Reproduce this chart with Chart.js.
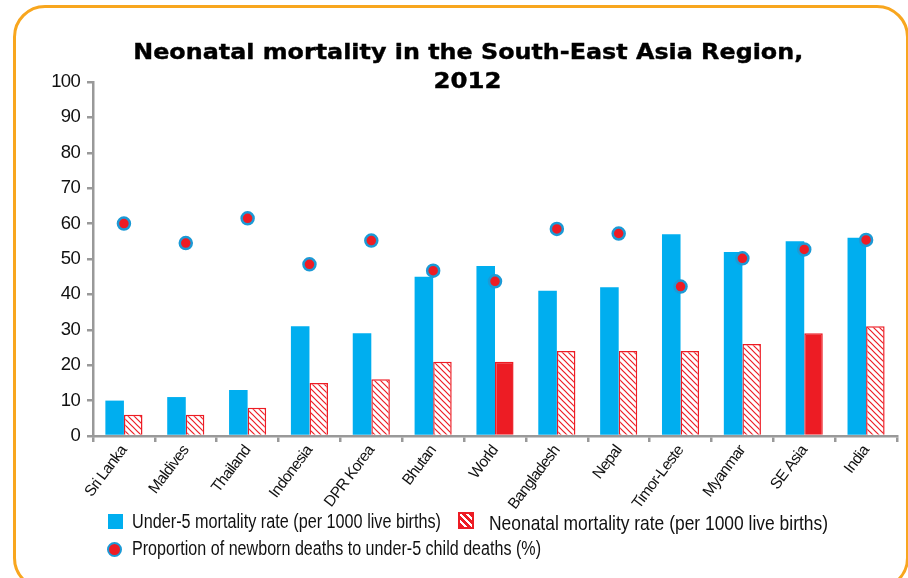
<!DOCTYPE html>
<html lang="en">
<head>
    <meta charset="UTF-8">
    <title>Neonatal mortality in the South-East Asia Region, 2012</title>
    <script src="https://cdn.jsdelivr.net/npm/chart.js"></script>
    <style>
        body { margin: 0; background: #fff; }
        .wrap { position: relative; width: 908px; height: 578px; overflow: hidden; }
        .frame {
            position: absolute; left: 13px; top: 5px; width: 896px; height: 585px;
            border: 3px solid #F8A61E; border-radius: 32px; box-sizing: border-box;
        }
        canvas { position: absolute; left: 0; top: 0; }
        .title {
            position: absolute; left: 0; width: 936px; top: 37px;
            text-align: center; font-family: "DejaVu Sans", Verdana, sans-serif;
            font-weight: bold; font-size: 22px; line-height: 29px; color: #000;
            -webkit-text-stroke: 0.4px #000;
        }
        .title span { display: inline-block; white-space: nowrap; transform-origin: center; }
        .lg { position: absolute; white-space: nowrap; line-height: 1;
              font-family: "Liberation Sans", Arial, sans-serif; color: #111; transform-origin: left top; }
        .sw { position: absolute; box-sizing: border-box; }
        .blue { left: 108px; top: 514px; width: 15px; height: 15px; background: #00AEEF; }
        .hatch {
            left: 458px; top: 512px; width: 16px; height: 17px;
            border: 2px solid #ED1C24;
            background: repeating-linear-gradient(45deg, #ED1C24 0 3px, #fff 3px 5px);
        }
        .dot {
            left: 107px; top: 542px; width: 15px; height: 15px; border-radius: 50%;
            background: #ED1C24; border: 2.5px solid #1B9AD6;
        }
    </style>
</head>
<body>
    <div class="wrap">
        <div class="frame"></div>
        <canvas id="chart" width="908" height="578"></canvas>
        <div class="title">
            <span data-w="670">Neonatal mortality in the South-East Asia Region,</span><br>
            <span data-w="68">2012</span>
        </div>
        <span class="sw blue"></span>
        <span class="lg" data-w="309" style="left:132px; top:512px; font-size:19.5px;">Under-5 mortality rate (per 1000 live births)</span>
        <span class="sw hatch"></span>
        <span class="lg" data-w="339" style="left:489px; top:512px; font-size:21px;">Neonatal mortality rate (per 1000 live births)</span>
        <span class="sw dot"></span>
        <span class="lg" data-w="409" style="left:132px; top:539px; font-size:19.5px;">Proportion of newborn deaths to under-5 child deaths (%)</span>
    </div>

    <script>
        const categories = ["Sri Lanka", "Maldives", "Thailand", "Indonesia", "DPR Korea", "Bhutan", "World",
            "Bangladesh", "Nepal", "Timor-Leste", "Myanmar", "SE Asia", "India"];
        const under5 = [10, 11, 13, 31, 29, 45, 48, 41, 42, 57, 52, 55, 56];
        const neonatal = [6, 6, 8, 15, 16, 21, 21, 24, 24, 24, 26, 29, 31];
        const proportion = [60, 54.5, 61.5, 48.5, 55.2, 46.7, 43.7, 58.5, 57.2, 42.2, 50.2, 52.7, 55.4];
        const solidNeonatal = ["World", "SE Asia"];
        const yTicks = [0, 10, 20, 30, 40, 50, 60, 70, 80, 90, 100];

        const BLUE = '#00AEEF';
        const RED = '#ED1C24';

        // squeeze the html texts to the widths they have in the original (condensed font)
        document.querySelectorAll('[data-w]').forEach(el => {
            const w = el.getBoundingClientRect().width;
            el.style.transform = 'scaleX(' + (el.dataset.w / w) + ')';
        });

        // diagonal hatch for the neonatal bars
        function makeHatch() {
            const s = 6;
            const c = document.createElement('canvas');
            c.width = s; c.height = s;
            const g = c.getContext('2d');
            g.fillStyle = '#fff';
            g.fillRect(0, 0, s, s);
            g.strokeStyle = RED;
            g.lineWidth = 1.2;
            g.beginPath();
            g.moveTo(-1, -1); g.lineTo(s + 1, s + 1);
            g.moveTo(s - 1, -1); g.lineTo(s + 1, 1);
            g.moveTo(-1, s - 1); g.lineTo(1, s + 1);
            g.stroke();
            return g.createPattern(c, 'repeat');
        }

        const ctx = document.getElementById('chart').getContext('2d');
        const hatch = makeHatch();
        const neoColors = categories.map(c => solidNeonatal.includes(c) ? RED : hatch);

        // no condensed font installed, tighten letters instead
        const tighten = {
            id: 'tighten',
            beforeDraw(chart) { chart.ctx.letterSpacing = '-0.7px'; }
        };

        new Chart(ctx, {
            type: 'bar',
            data: {
                labels: categories,
                datasets: [
                    {
                        type: 'line',
                        label: 'Proportion of newborn deaths to under-5 child deaths (%)',
                        data: proportion,
                        showLine: false,
                        pointRadius: 6,
                        pointBackgroundColor: RED,
                        pointBorderColor: '#1B9AD6',
                        pointBorderWidth: 2.5,
                        order: 0
                    },
                    {
                        label: 'Under-5 mortality rate (per 1000 live births)',
                        data: under5,
                        backgroundColor: BLUE,
                        borderWidth: 0,
                        order: 1
                    },
                    {
                        label: 'Neonatal mortality rate (per 1000 live births)',
                        data: neonatal,
                        backgroundColor: neoColors,
                        borderColor: RED,
                        borderWidth: 1.5,
                        order: 2
                    }
                ]
            },
            plugins: [tighten],
            options: {
                responsive: false,
                animation: false,
                layout: { padding: { left: 37, top: 82, right: 11, bottom: 0 } },
                datasets: {
                    bar: { categoryPercentage: 0.6, barPercentage: 1 }
                },
                plugins: {
                    legend: { display: false },
                    title: { display: false },
                    tooltip: { enabled: false }
                },
                scales: {
                    x: {
                        offset: true,
                        grid: { offset: true, drawOnChartArea: false, drawTicks: true, tickLength: 6, color: '#999', lineWidth: 2.5 },
                        border: { color: '#999', width: 2.5 },
                        ticks: {
                            color: '#111',
                            font: { family: '"Liberation Sans", Arial, sans-serif', size: 15.5 },
                            minRotation: 53,
                            maxRotation: 53,
                            autoSkip: false,
                            padding: 0
                        },
                        afterFit(scale) { scale.height = 142; }
                    },
                    y: {
                        min: 0,
                        max: 100,
                        afterBuildTicks(scale) { scale.ticks = yTicks.map(v => ({ value: v })); },
                        grid: { drawOnChartArea: false, drawTicks: true, tickLength: 6, color: '#999', lineWidth: 2.5 },
                        border: { color: '#999', width: 2.5 },
                        ticks: {
                            color: '#111',
                            font: { family: '"Liberation Sans", Arial, sans-serif', size: 18.5 },
                            padding: 7
                        },
                        afterFit(scale) { scale.width = 56; }
                    }
                }
            }
        });
    </script>
</body>
</html>
